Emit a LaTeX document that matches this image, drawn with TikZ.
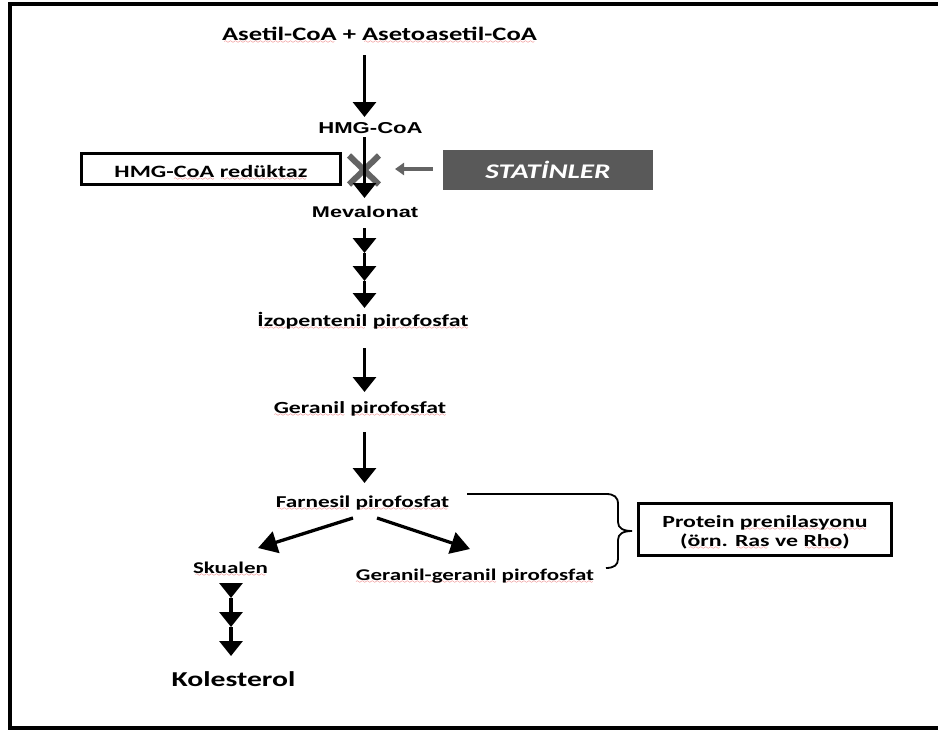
\documentclass[tikz,border=0pt]{standalone}
\usepackage{fontspec}
\usetikzlibrary{arrows.meta,calc,shapes.misc}
\newfontfamily\calibri[FakeStretch=1.4]{Carlito}
\newfontfamily\arial[FakeStretch=1.4]{Liberation Sans}
\definecolor{spellred}{RGB}{225,45,45}
\definecolor{statgray}{RGB}{89,89,89}
\definecolor{markgray}{RGB}{100,100,100}
% red wavy spell-check underline, built from a repeated wave glyph
\font\wavefont=lasy6
\newsavebox\sqbox
\newcommand\sq[1]{\sbox\sqbox{#1}%
  \rlap{\lower3.2pt\hbox to\wd\sqbox{\color{spellred}\cleaders\hbox{\wavefont\char58}\hfil}}%
  \usebox\sqbox}
\newcommand\cfont[1]{\calibri\bfseries\fontsize{#1}{#1}\selectfont}
\newcommand\afont[1]{\arial\bfseries\fontsize{#1}{#1}\selectfont}
\tikzset{
  lbl/.style={inner sep=0pt, anchor=base, font=\cfont{17}},
  arr/.style={line width=3.3pt, -{Triangle[length=15pt,width=23pt]}},
  darr/.style={line width=3.3pt, -{Triangle[length=19pt,width=22pt]}},
  boxed/.style={draw, line width=3.5pt, inner sep=0pt},
}
\begin{document}
\begin{tikzpicture}[x=1pt,y=-1pt]
\useasboundingbox (0,0) rectangle (938,731);
% outer frame (open on the right)
\draw[line width=4pt] (938,4) -- (10,4) -- (10,728) -- (938,728);

\coordinate (spine) at (364.5,0);
\coordinate (sspine) at (231,0);

% pathway labels
\node[lbl, font=\cfont{19}] (top) at (379.5,40) {\sq{Asetil-CoA} + \sq{Asetoasetil-CoA}};
\node[lbl, font=\afont{15.8}] (hmg) at (370.5,133) {HMG-CoA};
\node[lbl, font=\afont{15.5}] (mev) at (365,217) {Mevalonat};
\node[lbl] (izo) at (363,326) {\sq{İzopentenil} \sq{pirofosfat}};
\node[lbl] (ger) at (360,413) {\sq{Geranil} \sq{pirofosfat}};
\node[lbl, font=\cfont{16.6}] (far) at (362.5,507) {\sq{Farnesil} \sq{pirofosfat}};
\node[lbl, font=\cfont{16.4}] (sku) at (230.5,573) {\sq{Skualen}};
\node[lbl, font=\cfont{16.4}] (gg) at (475,580) {\sq{Geranil-geranil} \sq{pirofosfat}};
\node[lbl, font=\cfont{21.2}] (kol) at (233.5,686.7) {Kolesterol};

% enzyme box, blocking mark and statin box
\node[boxed, minimum width=259pt, minimum height=31pt, text height=16pt, text depth=0pt,
      font=\cfont{17.3}] (red) at (211,169) {HMG-\sq{CoA} \sq{redüktaz}};
\node[cross out, draw=markgray, line width=6pt, minimum width=24pt, minimum height=23pt,
      inner sep=0pt] (xm) at (364,170) {};
\node[fill=statgray, minimum width=210pt, minimum height=40pt, inner sep=0pt,
      text height=17.4pt, text depth=0pt, text=white,
      font=\calibri\bfseries\itshape\fontsize{20.8}{24}\selectfont] (stat) at (548,170) {STATİNLER};

% prenylation box
\node[boxed, line width=3pt, minimum width=253pt, minimum height=52pt] (prot) at (765,529.5) {};
\node[lbl] (prot1) at (765,527.7) {Protein \sq{prenilasyonu}};
\node[lbl] (prot2) at (765,546.7) {(\sq{örn}. \sq{Ras} ve \sq{Rho})};

% main chain of arrows
\draw[arr] ($(top.base -| spine)+(0,15)$) -- ($(hmg.base -| spine)+(0,-16)$);
\draw[arr] ($(hmg.base -| spine)+(0,4)$) -- ($(mev.base -| spine)+(0,-19)$);
\draw[line width=3.5pt, draw=markgray, -{Triangle[length=9pt,width=12pt]}]
  ($(stat.west)+(-10,-1)$) -- ($(xm.east)+(16,-1)$);

\coordinate (m0) at ($(mev.base -| spine)+(0,11)$);
\coordinate (m1) at ($(mev.base -| spine)+(0,36)$);
\coordinate (m2) at ($(mev.base -| spine)+(0,64)$);
\coordinate (m3) at ($(izo.base -| spine)+(0,-18)$);
\draw[arr] (m0) -- (m1);
\draw[arr] (m1) -- (m2);
\draw[arr] (m2) -- (m3);

\draw[arr] ($(izo.base -| spine)+(0,22)$) -- ($(ger.base -| spine)+(0,-21)$);
\draw[arr] ($(ger.base -| spine)+(0,19)$) -- ($(far.base -| spine)+(0,-24)$);

% branch
\draw[darr] ($(far.base)+(-9.5,11)$) -- ($(sku.base)+(27.5,-25)$);
\draw[darr] ($(far.base)+(14.5,11)$) -- ($(gg.base)+(-5,-31)$);

\coordinate (s0) at ($(sku.base -| sspine)+(0,12)$);
\coordinate (s1) at ($(sku.base -| sspine)+(0,25)$);
\coordinate (s2) at ($(sku.base -| sspine)+(0,54)$);
\coordinate (s3) at ($(kol.base -| sspine)+(0,-30.7)$);
\draw[arr] (s0) -- (s1);
\draw[arr] (s1) -- (s2);
\draw[arr] (s2) -- (s3);

% brace grouping the two prenyl pyrophosphates
\coordinate (btip) at ($(prot.west)+(-5,1.5)$);
\draw[line width=1.8pt]
  ($(far.base)+(104.5,-13)$) -- (606,494)
  .. controls (614,494) and (618,497) .. (618,504) -- (618,522)
  .. controls (618,528) and (623,531) .. (btip)
  .. controls (623,531) and (618,534) .. (618,540) -- (618,559)
  .. controls (618,565) and (614,568) .. (606,568);
\end{tikzpicture}
\end{document}
